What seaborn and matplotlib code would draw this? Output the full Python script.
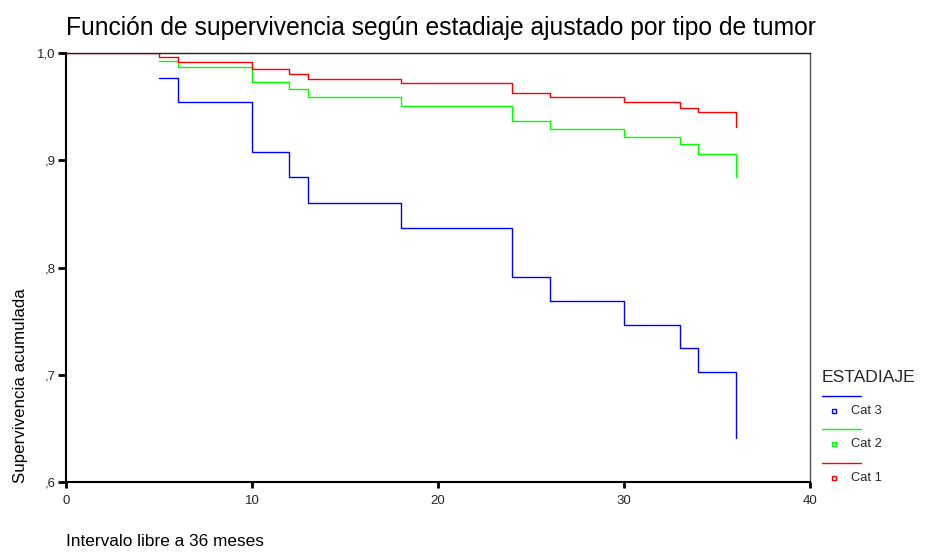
import matplotlib
matplotlib.use("Agg")
import matplotlib.pyplot as plt
from matplotlib.lines import Line2D
import seaborn as sns
import pandas as pd

# Kaplan-Meier step values (time in months, cumulative survival)
times_cat3 = [5, 6, 10, 12, 13, 18, 24, 26, 30, 33, 34, 36]
surv_cat3 = [0.977, 0.954, 0.908, 0.884, 0.860, 0.837, 0.791, 0.769, 0.746, 0.725, 0.703, 0.641]

times_cat2 = [5, 6, 10, 12, 13, 18, 24, 26, 30, 33, 34, 36]
surv_cat2 = [0.993, 0.987, 0.973, 0.966, 0.959, 0.951, 0.937, 0.929, 0.922, 0.915, 0.906, 0.884]

times_cat1 = [0, 5, 6, 10, 12, 13, 18, 24, 26, 30, 33, 34, 36]
surv_cat1 = [1.000, 0.996, 0.992, 0.985, 0.980, 0.976, 0.972, 0.963, 0.959, 0.954, 0.949, 0.945, 0.931]

categories = ["Cat 3", "Cat 2", "Cat 1"]
colors = {"Cat 3": "#0000ff", "Cat 2": "#00ff00", "Cat 1": "#ff0000"}

x_ticks = [0, 10, 20, 30, 40]
y_ticks = [0.6, 0.7, 0.8, 0.9, 1.0]
y_tick_labels = [",6", ",7", ",8", ",9", "1,0"]

frames = []
for cat, t, s in [("Cat 3", times_cat3, surv_cat3),
                  ("Cat 2", times_cat2, surv_cat2),
                  ("Cat 1", times_cat1, surv_cat1)]:
    frames.append(pd.DataFrame({"tiempo": t, "superv": s, "cat": cat}))
df = pd.concat(frames, ignore_index=True)

sns.set_theme(style="white")
plt.rcParams["font.family"] = ["Liberation Sans", "DejaVu Sans"]

W, H = 925, 552
fig = plt.figure(figsize=(W / 100, H / 100), dpi=100)
ax = fig.add_axes([66 / W, (H - 482) / H, (810 - 66) / W, (482 - 53) / H])

sns.lineplot(data=df, x="tiempo", y="superv", hue="cat", hue_order=categories,
             palette=colors, drawstyle="steps-post", estimator=None,
             linewidth=1.0, legend=False, ax=ax)

ax.set_xlim(0, 40)
ax.set_ylim(0.6, 1.0)
ax.set_xticks(x_ticks)
ax.set_xticklabels([str(v) for v in x_ticks])
ax.set_yticks(y_ticks)
ax.set_yticklabels(y_tick_labels)
ax.tick_params(axis="y", direction="out", length=6, width=2,
               color="black", labelsize=9.5, pad=1.5, left=True)
ax.tick_params(axis="x", direction="out", length=4, width=2,
               color="black", labelsize=9.5, pad=5, bottom=True)
ax.set_xlabel("")
ax.set_ylabel("")
for side in ["left", "bottom"]:
    ax.spines[side].set_color("black")
    ax.spines[side].set_linewidth(1.5)
ax.spines["top"].set_color("#222222")
ax.spines["top"].set_linewidth(1.0)
ax.spines["right"].set_color("#555555")
ax.spines["right"].set_linewidth(1.0)

fig.text(66 / W, 1 - 28 / H, "Función de supervivencia según estadiaje ajustado por tipo de tumor",
         fontsize=17.7, ha="left", va="center", color="black")
fig.text(66 / W, 1 - 541 / H, "Intervalo libre a 36 meses",
         fontsize=12.4, ha="left", va="center", color="black")
fig.text(21 / W, 1 - 386 / H, "Supervivencia acumulada", rotation=90,
         fontsize=12.2, ha="center", va="center", color="black")

# Legend block at the right
fig.text(822 / W, 1 - 378 / H, "ESTADIAJE", fontsize=12.6, ha="left", va="center")
leg_y = [396, 429, 463]
for cat, ly in zip(categories, leg_y):
    fig.add_artist(Line2D([822 / W, 861 / W], [1 - ly / H, 1 - ly / H],
                          color=colors[cat], linewidth=1.0))
    fig.add_artist(Line2D([834 / W], [1 - (ly + 15) / H], marker="s", markersize=3.5,
                          markerfacecolor="white", markeredgecolor=colors[cat],
                          markeredgewidth=1.0, linestyle="none"))
    fig.text(851 / W, 1 - (ly + 15) / H, cat, fontsize=9.3, ha="left", va="center")

fig.savefig("out.png", dpi=100, facecolor="white")
